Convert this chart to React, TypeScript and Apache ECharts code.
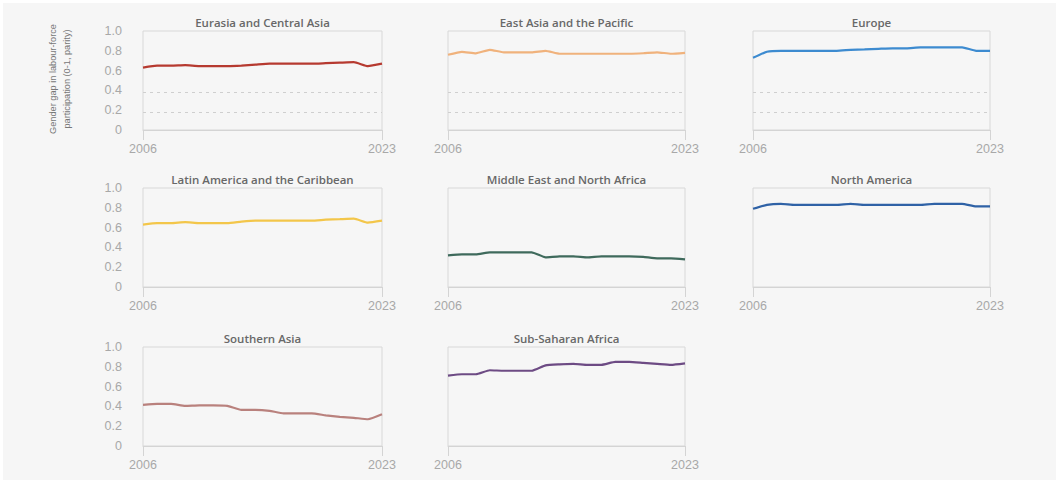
import React, { useEffect, useRef } from "react";
import * as echarts from "echarts";

// Years on the horizontal axis
const years = [
  2006, 2007, 2008, 2009, 2010, 2011, 2012, 2013, 2014,
  2015, 2016, 2017, 2018, 2019, 2020, 2021, 2022, 2023,
];

// Gender gap in labour-force participation, 0 = full gap, 1 = parity
const eurasiaCentralAsia = [0.63, 0.65, 0.65, 0.655, 0.645, 0.645, 0.645, 0.65, 0.66, 0.67, 0.67, 0.67, 0.67, 0.675, 0.68, 0.685, 0.645, 0.67];
const eastAsiaPacific = [0.76, 0.79, 0.775, 0.81, 0.785, 0.785, 0.785, 0.80, 0.77, 0.77, 0.77, 0.77, 0.77, 0.77, 0.775, 0.785, 0.77, 0.78];
const europe = [0.73, 0.79, 0.80, 0.80, 0.80, 0.80, 0.80, 0.81, 0.815, 0.82, 0.825, 0.825, 0.835, 0.835, 0.835, 0.835, 0.80, 0.80];
const latinAmericaCaribbean = [0.63, 0.645, 0.645, 0.655, 0.645, 0.645, 0.645, 0.66, 0.67, 0.67, 0.67, 0.67, 0.67, 0.68, 0.685, 0.69, 0.65, 0.67];
const middleEastNorthAfrica = [0.32, 0.33, 0.33, 0.35, 0.35, 0.35, 0.35, 0.30, 0.31, 0.31, 0.30, 0.31, 0.31, 0.31, 0.305, 0.29, 0.29, 0.28];
const northAmerica = [0.79, 0.83, 0.84, 0.83, 0.83, 0.83, 0.83, 0.84, 0.83, 0.83, 0.83, 0.83, 0.83, 0.84, 0.84, 0.84, 0.815, 0.815];
const southernAsia = [0.415, 0.425, 0.425, 0.405, 0.41, 0.41, 0.405, 0.365, 0.365, 0.355, 0.33, 0.33, 0.33, 0.31, 0.295, 0.285, 0.27, 0.32];
const subSaharanAfrica = [0.71, 0.725, 0.725, 0.765, 0.76, 0.76, 0.76, 0.815, 0.825, 0.83, 0.82, 0.82, 0.85, 0.85, 0.84, 0.83, 0.82, 0.835];

const regionNames = [
  "Eurasia and Central Asia",
  "East Asia and the Pacific",
  "Europe",
  "Latin America and the Caribbean",
  "Middle East and North Africa",
  "North America",
  "Southern Asia",
  "Sub-Saharan Africa",
];
const regionValues = [
  eurasiaCentralAsia,
  eastAsiaPacific,
  europe,
  latinAmericaCaribbean,
  middleEastNorthAfrica,
  northAmerica,
  southernAsia,
  subSaharanAfrica,
];

// Dotted reference levels drawn in the first row of panels
const guideLevels = [0.38, 0.18];

const yAxisTitle = "Gender gap in labour-force\nparticipation (0-1, parity)";

// Styling and layout
const lineColors = ["#b63a30", "#f0b27c", "#3d8bd0", "#f3c64a", "#3f6a5c", "#2f62a6", "#b9817d", "#6d4b84"];
const colLeft = [143, 448, 753];
const colWidth = [239, 237, 237];
const rowTop = [31, 188, 347];
const panelHeight = 99;
const FONT = "'Liberation Sans', Arial, Helvetica, sans-serif";

export default function App() {
  const ref = useRef<HTMLDivElement>(null);

  useEffect(() => {
    if (!ref.current) return;
    const chart = echarts.init(ref.current, undefined, { renderer: "svg" });

    const grids: any[] = [];
    const xAxes: any[] = [];
    const yAxes: any[] = [];
    const series: any[] = [];
    const graphics: any[] = [
      { type: "rect", shape: { x: 0, y: 0, width: 1056, height: 3 }, style: { fill: "#ffffff" }, silent: true },
      { type: "rect", shape: { x: 0, y: 0, width: 3, height: 480 }, style: { fill: "#ffffff" }, silent: true },
      {
        type: "text",
        x: 60,
        y: 79,
        rotation: Math.PI / 2,
        style: {
          text: yAxisTitle,
          font: `9.2px ${FONT}`,
          fill: "#777777",
          lineHeight: 14,
          align: "center",
          verticalAlign: "middle",
          textAlign: "center",
          textVerticalAlign: "middle",
        },
        silent: true,
      },
    ];

    regionNames.forEach((name, i) => {
      const col = i % 3;
      const row = Math.floor(i / 3);
      const left = colLeft[col];
      const width = colWidth[col];
      const top = rowTop[row];

      grids.push({
        left,
        top,
        width,
        height: panelHeight,
        show: true,
        borderColor: "#d8d8d8",
        borderWidth: 1,
        backgroundColor: "transparent",
        containLabel: false,
      });

      xAxes.push({
        type: "value",
        gridIndex: i,
        min: years[0],
        max: years[years.length - 1],
        interval: years[years.length - 1] - years[0],
        axisLine: { show: true, lineStyle: { color: "#d4d4d4", width: 1 } },
        axisTick: { show: true, length: 10, lineStyle: { color: "#d4d4d4", width: 1 } },
        axisLabel: {
          color: "#a8a8a8",
          fontSize: 12.5,
          fontFamily: FONT,
          margin: 12,
          formatter: (v: number) => String(v),
        },
        splitLine: { show: false },
      });

      yAxes.push({
        type: "value",
        gridIndex: i,
        min: 0,
        max: 1,
        interval: 0.2,
        axisLine: { show: false },
        axisTick: { show: false },
        axisLabel: {
          show: col === 0,
          color: "#a8a8a8",
          fontSize: 12.5,
          fontFamily: FONT,
          margin: 21,
          formatter: (v: number) => (v === 0 ? "0" : v.toFixed(1)),
        },
        splitLine: { show: false },
      });

      series.push({
        type: "line",
        name,
        xAxisIndex: i,
        yAxisIndex: i,
        data: years.map((y, k) => [y, regionValues[i][k]]),
        showSymbol: false,
        smooth: 0.15,
        lineStyle: { color: lineColors[i], width: 2.2 },
        itemStyle: { color: lineColors[i] },
        markLine:
          row === 0
            ? {
                silent: true,
                symbol: ["none", "none"],
                label: { show: false },
                lineStyle: { color: "#cfcfcf", type: [3, 4], width: 1 },
                data: guideLevels.map((v) => ({ yAxis: v })),
              }
            : undefined,
      });

      graphics.push({
        type: "text",
        x: left + width / 2,
        y: top - 9,
        style: {
          text: name,
          font: `600 11.5px 'Open Sans', ${FONT}`,
          fill: "#686868",
          align: "center",
          verticalAlign: "middle",
          textAlign: "center",
          textVerticalAlign: "middle",
        },
        silent: true,
      });
    });

    chart.setOption({
      animation: false,
      backgroundColor: "#f6f6f6",
      grid: grids,
      xAxis: xAxes,
      yAxis: yAxes,
      series,
      graphic: graphics,
    });

    return () => chart.dispose();
  }, []);

  return (
    <div
      ref={ref}
      style={{ position: "absolute", left: 0, top: 0, width: 1056, height: 480 }}
    />
  );
}
